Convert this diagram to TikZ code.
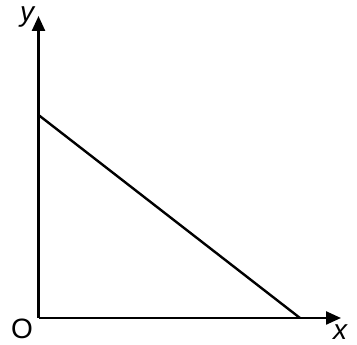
\documentclass[tikz,border=0pt]{standalone}
\usepackage{fontspec}
\setmainfont{Liberation Sans}
\usetikzlibrary{arrows.meta,positioning}
\tikzset{
    axis/.style={
        line width=2.4pt,-{Triangle[length=15pt,width=13pt]}
    },
    axislabel/.style={
        font=\fontsize{28}{30}\selectfont,inner sep=0pt
    }
}

\begin{document}
\begin{tikzpicture}[x=1pt,y=1pt]
\useasboundingbox (0,0) rectangle (357,345);
\coordinate (o) at (38.5,27);
\coordinate (ytip) at (38.5,329);
\coordinate (xtip) at (341,27);
\coordinate (a) at (38.5,230);
\coordinate (b) at (300,27);
\draw[axis] (o) -- (ytip);
\draw[axis] (o) -- (xtip);
\draw[line width=2.4pt] (a) -- (b);
\node[axislabel] (ylab) at (27,328) {\itshape y};
\node[axislabel] (olab) at (22,16) {O};
\node[axislabel] (xlab) at (340,13) {\itshape x};
\end{tikzpicture}
\end{document}
